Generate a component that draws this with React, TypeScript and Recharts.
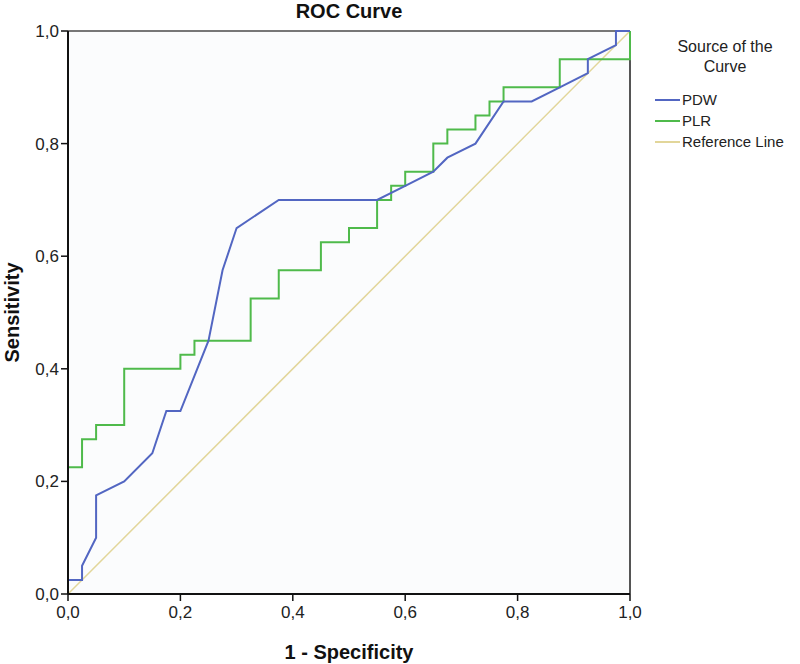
import React from "react";
import {
  LineChart,
  Line,
  XAxis,
  YAxis,
  CartesianGrid,
  ReferenceLine,
} from "recharts";

// 1 - specificity / sensitivity pairs
const pdwFpr = [0, 0, 0.025, 0.025, 0.05, 0.05, 0.1, 0.15, 0.175, 0.2, 0.25, 0.275, 0.3, 0.375, 0.55, 0.6, 0.65, 0.675, 0.725, 0.775, 0.825, 0.875, 0.925, 0.925, 0.975, 0.975, 1];
const pdwTpr = [0, 0.025, 0.025, 0.05, 0.1, 0.175, 0.2, 0.25, 0.325, 0.325, 0.45, 0.575, 0.65, 0.7, 0.7, 0.725, 0.75, 0.775, 0.8, 0.875, 0.875, 0.9, 0.925, 0.95, 0.975, 1, 1];

const plrFpr = [0, 0, 0.025, 0.025, 0.05, 0.05, 0.1, 0.1, 0.2, 0.2, 0.225, 0.225, 0.325, 0.325, 0.375, 0.375, 0.45, 0.45, 0.5, 0.5, 0.55, 0.55, 0.575, 0.575, 0.6, 0.6, 0.65, 0.65, 0.675, 0.675, 0.725, 0.725, 0.75, 0.75, 0.775, 0.775, 0.875, 0.875, 1, 1];
const plrTpr = [0, 0.225, 0.225, 0.275, 0.275, 0.3, 0.3, 0.4, 0.4, 0.425, 0.425, 0.45, 0.45, 0.525, 0.525, 0.575, 0.575, 0.625, 0.625, 0.65, 0.65, 0.7, 0.7, 0.725, 0.725, 0.75, 0.75, 0.8, 0.8, 0.825, 0.825, 0.85, 0.85, 0.875, 0.875, 0.9, 0.9, 0.95, 0.95, 1];

const refFpr = [0, 1];
const refTpr = [0, 1];

const axisTicks = [0, 0.2, 0.4, 0.6, 0.8, 1];

const seriesNames = ["PDW", "PLR", "Reference Line"];
const seriesColors = ["#5266c2", "#4fba4b", "#e2d69a"];

const toPoints = (xs: number[], ys: number[]) => xs.map((x, i) => ({ x, y: ys[i] }));

const pdwData = toPoints(pdwFpr, pdwTpr);
const plrData = toPoints(plrFpr, plrTpr);
const refData = toPoints(refFpr, refTpr);

const fmt = (v: number) => v.toFixed(1).replace(".", ",");

const font = "'Liberation Sans', Arial, sans-serif";

function LegendBox() {
  return (
    <div style={{ position: "absolute", left: 655, top: 37, fontFamily: font, color: "#222", width: 145 }}>
      <div style={{ fontSize: 16, lineHeight: "20px", textAlign: "center", width: 140 }}>
        Source of the
        <br />
        Curve
      </div>
      <div style={{ marginTop: 12 }}>
        {seriesNames.map((name, i) => (
          <div key={name} style={{ display: "flex", alignItems: "center", height: 21, fontSize: 15 }}>
            <span style={{ display: "inline-block", width: 25, height: 2, background: seriesColors[i], marginRight: 2 }} />
            {name}
          </div>
        ))}
      </div>
    </div>
  );
}

export default function App() {
  return (
    <div style={{ position: "absolute", left: 0, top: 0, width: 800, height: 664, background: "#fff" }}>
      <div
        style={{
          position: "absolute",
          left: 68,
          width: 562,
          top: 0,
          textAlign: "center",
          fontFamily: font,
          fontWeight: "bold",
          fontSize: 20,
          color: "#111",
        }}
      >
        ROC Curve
      </div>
      <LineChart
        width={800}
        height={664}
        margin={{ top: 31, right: 170, left: 0, bottom: 0 }}
      >
        <CartesianGrid horizontal={false} vertical={false} fill="#fbfcfd" />
        <XAxis
          type="number"
          dataKey="x"
          domain={[0, 1]}
          ticks={axisTicks}
          tickFormatter={fmt}
          height={70}
          allowDuplicatedCategory={false}
          axisLine={{ stroke: "#111", strokeWidth: 2 }}
          tickLine={{ stroke: "#111", strokeWidth: 1.5 }}
          tickSize={7}
          tickMargin={5}
          tick={{ fill: "#222", fontSize: 17, fontFamily: font }}
          label={{
            value: "1 - Specificity",
            position: "insideBottom",
            offset: 5,
            style: { fill: "#111", fontSize: 20, fontWeight: "bold", fontFamily: font },
          }}
        />
        <YAxis
          type="number"
          dataKey="y"
          domain={[0, 1]}
          ticks={axisTicks}
          tickFormatter={fmt}
          width={68}
          axisLine={{ stroke: "#111", strokeWidth: 2 }}
          tickLine={{ stroke: "#111", strokeWidth: 1.5 }}
          tickSize={7}
          tickMargin={2}
          tick={{ fill: "#222", fontSize: 17, fontFamily: font }}
          label={{
            value: "Sensitivity",
            angle: -90,
            position: "insideLeft",
            offset: 12,
            style: { fill: "#111", fontSize: 20, fontWeight: "bold", fontFamily: font, textAnchor: "middle" },
          }}
        />
        <ReferenceLine y={1} stroke="#777" strokeWidth={2} />
        <ReferenceLine x={1} stroke="#555" strokeWidth={2} />
        <Line
          data={refData}
          dataKey="y"
          type="linear"
          stroke={seriesColors[2]}
          strokeWidth={1.5}
          dot={false}
          isAnimationActive={false}
        />
        <Line
          data={plrData}
          dataKey="y"
          type="linear"
          stroke={seriesColors[1]}
          strokeWidth={2}
          dot={false}
          isAnimationActive={false}
        />
        <Line
          data={pdwData}
          dataKey="y"
          type="linear"
          stroke={seriesColors[0]}
          strokeWidth={2}
          dot={false}
          isAnimationActive={false}
        />
      </LineChart>
      <LegendBox />
    </div>
  );
}
